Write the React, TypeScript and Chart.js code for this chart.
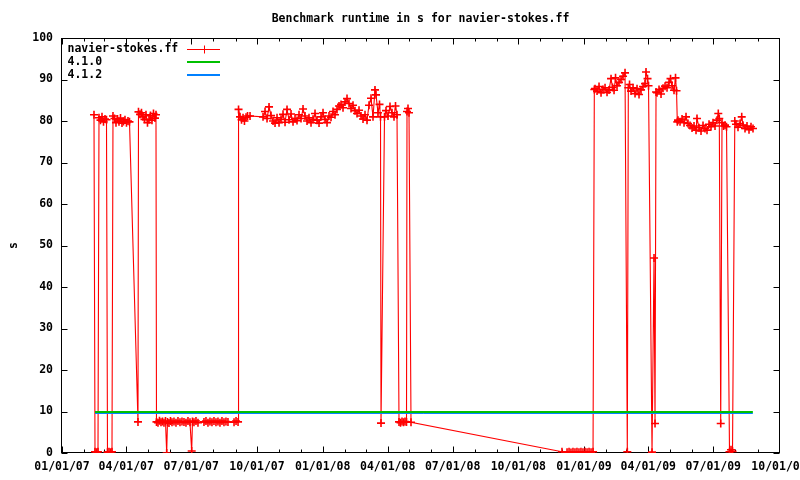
import React, { useEffect, useRef } from "react";
import { Chart, registerables } from "chart.js";

Chart.register(...registerables);

const FONT_FAMILY = '"DejaVu Sans Mono", "Liberation Mono", monospace';
const FONT_SIZE = 11.5;

const TITLE = "Benchmark runtime in s for navier-stokes.ff";
const Y_AXIS_LABEL = "s";
const X_TICK_LABELS = [
  "01/01/07", "04/01/07", "07/01/07", "10/01/07",
  "01/01/08", "04/01/08", "07/01/08", "10/01/08",
  "01/01/09", "04/01/09", "07/01/09", "10/01/09",
];
const Y_MIN = 0;
const Y_MAX = 100;
const Y_STEP = 10;

const SERIES_LABELS = ["navier-stokes.ff", "4.1.0", "4.1.2"];
const SERIES_COLORS = ["#ff0000", "#00c000", "#0080ff"];

// days since 01/01/07
const runDays = [
  44.8, 46.2, 48.3, 50.4, 51.8, 53.9, 56.0, 58.1, 60.2, 62.3,
  63.7, 65.8, 67.9, 70.0, 71.4, 73.5, 75.6, 77.7, 79.8, 81.9,
  84.0, 86.1, 88.2, 90.3, 92.4, 94.5, 106.4, 107.1, 109.2, 111.3,
  113.4, 115.5, 117.6, 119.7, 121.8, 123.9, 126.0, 128.1, 130.2, 131.6,
  132.3,
  134.4, 136.5, 138.6, 140.7, 142.8, 144.9, 146.6, 147.7, 149.8, 151.9,
  154.0, 156.8, 159.6, 162.4, 165.2, 168.0, 170.8, 173.6, 176.4, 179.2,
  181.6, 182.7, 184.8, 187.6, 190.4, 198.8, 201.6, 204.4, 207.2, 210.0,
  212.8, 215.6, 218.4, 221.2, 224.0, 226.8, 229.6, 232.4, 240.9, 243.7,
  246.5,
  247.2, 249.3, 251.4, 253.5, 255.5, 257.7, 259.8, 263.3, 281.5, 284.3,
  287.1, 289.9, 292.7, 295.5, 298.3, 301.1, 303.9, 306.7, 309.5, 312.3,
  315.1, 317.9, 320.7, 323.5, 326.3, 329.1, 331.9, 334.7, 337.5, 340.3,
  343.1, 345.9, 348.7, 351.5, 354.3, 357.1, 359.9, 362.7, 365.5, 368.3,
  371.1, 373.9, 376.7, 379.5, 382.3, 385.1, 387.9, 390.7, 393.5, 396.3,
  399.1, 401.9, 404.7, 407.5, 410.3, 413.1, 415.9, 418.7, 421.5, 424.3,
  427.1, 429.9, 432.7, 435.5, 438.3, 439.7, 442.5, 444.6, 446.0, 446.7,
  451.6,
  453.7, 456.5, 459.3, 462.1, 464.9, 467.0, 469.1, 471.9, 474.0, 476.1,
  478.2, 480.3, 482.4, 483.1, 484.5, 485.9, 488.7, 700.1,
  707.2, 710.0, 712.7, 715.5, 718.3, 721.1, 723.9, 726.7, 729.5, 732.4,
  735.2, 738.0, 740.8, 743.6, 745.4,
  746.4, 749.2, 752.0, 754.8, 757.6, 760.4, 763.2, 766.0, 768.8, 770.9,
  773.0, 775.1, 777.2, 780.0, 782.8, 785.6, 788.4, 791.6, 793.0,
  794.7, 796.8, 799.6, 802.4, 805.2, 808.0, 810.8, 813.6, 816.4, 817.8,
  819.9, 821.3, 826.2, 829.0, 830.4, 831.8,
  833.2, 836.0, 838.8, 841.6, 844.4, 847.2, 850.0, 852.1, 854.2, 857.0,
  859.1, 860.5, 861.6,
  862.6, 865.4, 868.2, 871.0, 873.8, 876.6, 879.4, 882.2, 885.0, 887.8,
  889.2, 892.0, 894.8, 897.6, 900.4, 903.2, 906.0, 908.8, 911.6, 914.4,
  917.2, 919.0, 920.4, 922.4, 924.2, 926.3, 928.4, 930.5, 934.7, 936.8,
  938.9, 942.1, 943.8, 946.6, 949.4, 951.8, 953.6, 956.4, 959.2, 962.0,
  964.8, 967.6,
];

const runSeconds = [
  81.5, 0.3, 0.2, 0.3, 80.8, 80.2, 81.0, 79.8, 80.5, 80.3,
  0.2, 0.3, 0.2, 0.3, 81.2, 80.6, 79.6, 80.5, 79.8, 80.7,
  79.5, 79.9, 80.3, 79.6, 80.0, 79.8, 7.5, 82.2, 81.6, 82.0,
  81.0, 80.4, 81.5, 79.6, 80.3, 81.3, 80.2, 81.8, 80.7, 81.5,
  7.5,
  7.3, 7.8, 7.4, 7.6, 7.3, 7.7, 0.0, 7.5, 7.2, 7.7,
  7.4, 7.6, 7.3, 7.7, 7.4, 7.6, 7.5, 7.3, 7.7, 7.4,
  0.5, 7.6, 7.4, 7.7, 7.3, 7.5, 7.7, 7.3, 7.6, 7.4,
  7.7, 7.4, 7.6, 7.3, 7.7, 7.4, 7.6, 7.5, 7.4, 7.7,
  7.5,
  82.8, 81.0, 80.3, 80.8, 80.0, 80.9, 81.2, 81.2, 81.0, 82.3,
  80.6, 83.4, 81.3, 80.0, 79.5, 80.8, 79.6, 80.4, 81.6, 79.7,
  82.8, 80.3, 81.7, 79.8, 80.6, 80.1, 81.5, 80.6, 82.9, 81.2,
  80.0, 80.8, 79.6, 80.4, 81.8, 80.2, 79.5, 81.0, 82.0, 80.4,
  79.6, 81.2, 80.9, 82.3, 81.5, 82.8, 83.6, 84.0, 83.2, 84.6,
  85.4, 84.2, 83.0, 83.8, 82.5, 81.8, 82.6, 81.2, 80.5, 81.5,
  80.2, 83.8, 85.5, 81.0, 87.5, 86.3, 82.0, 84.0, 81.0, 7.2,
  81.0,
  82.5, 81.2, 83.5, 82.0, 81.0, 83.6, 81.5, 7.5, 7.3, 7.6,
  7.4, 7.6, 7.5, 82.3, 83.0, 82.0, 7.4, 0.3,
  0.2, 0.3, 0.1, 0.3, 0.2, 0.3, 0.2, 0.3, 0.2, 0.3,
  0.2, 0.3, 0.2, 0.3, 87.6,
  87.8, 87.2, 88.3, 86.8, 87.6, 88.0, 86.9, 87.5, 90.2, 88.1,
  87.4, 90.4, 88.5, 89.3, 90.0, 90.8, 91.6, 0.3, 88.0,
  88.8, 87.2, 88.0, 86.6, 87.8, 86.4, 87.5, 88.3, 89.0, 91.8,
  90.2, 88.5, 0.2, 47.0, 7.1, 87.0,
  86.8, 87.6, 86.5, 87.9, 88.4, 88.0, 89.3, 90.2, 88.5, 87.4,
  90.4, 87.3, 79.8,
  80.2, 79.8, 80.5, 79.6, 81.0, 79.4, 78.9, 78.3, 78.8, 77.8,
  80.6, 78.4, 77.6, 78.9, 78.2, 77.8, 79.2, 78.6, 79.6, 78.8,
  80.2, 81.8, 80.6, 7.1, 79.6, 78.8, 79.0, 78.6, 0.3, 0.8,
  0.4, 80.0, 79.2, 78.5, 79.4, 81.0, 79.0, 78.2, 78.8, 77.9,
  78.6, 78.2,
];

const ref410Days = [46.2, 967.4];
const ref410Seconds = [9.88, 9.88];
const ref412Days = [46.2, 967.4];
const ref412Seconds = [9.52, 9.52];

function dayOf(label: string): number {
  const [m, d, y] = label.split("/").map(Number);
  return (Date.UTC(2000 + y, m - 1, d) - Date.UTC(2007, 0, 1)) / 86400000;
}

const X_MIN = dayOf(X_TICK_LABELS[0]);
const X_MAX = dayOf(X_TICK_LABELS[X_TICK_LABELS.length - 1]);

function monthStarts(): number[] {
  const out: number[] = [];
  for (let m = 0; m <= 40; m++) {
    const d = (Date.UTC(2007, m, 1) - Date.UTC(2007, 0, 1)) / 86400000;
    if (d >= X_MIN && d <= X_MAX) out.push(d);
  }
  return out;
}

const font = { family: FONT_FAMILY, size: FONT_SIZE, weight: "bold" as const };

const framePlugin = {
  id: "gnuplotFrame",
  beforeDatasetsDraw(chart: any) {
    const { ctx, chartArea: a } = chart;
    const xs = chart.scales.x;
    const ys = chart.scales.y;
    const L = Math.round(a.left) - 0.5;
    const R = Math.round(a.right) + 0.5;
    const T = Math.round(a.top) + 0.5;
    const B = Math.round(a.bottom) - 0.5;
    ctx.save();
    ctx.strokeStyle = "#000";
    ctx.lineWidth = 1;
    ctx.strokeRect(L, T, R - L, B - T);
    ctx.beginPath();
    const majors = X_TICK_LABELS.map(dayOf);
    for (const d of monthStarts()) {
      const isMajor = majors.some((m) => Math.abs(m - d) < 0.01);
      const len = isMajor ? 6 : 3;
      const px = Math.round(xs.getPixelForValue(d)) + 0.5;
      ctx.moveTo(px, B);
      ctx.lineTo(px, B - len);
      ctx.moveTo(px, T);
      ctx.lineTo(px, T + len);
    }
    for (let v = Y_MIN; v <= Y_MAX; v += Y_STEP) {
      const py = Math.round(ys.getPixelForValue(v)) + 0.5;
      ctx.moveTo(L, py);
      ctx.lineTo(L + 6, py);
      ctx.moveTo(R, py);
      ctx.lineTo(R - 6, py);
    }
    ctx.stroke();
    ctx.restore();
  },
};

const legendPlugin = {
  id: "gnuplotLegend",
  afterDatasetsDraw(chart: any) {
    const { ctx, chartArea: a } = chart;
    ctx.save();
    ctx.font = `bold ${FONT_SIZE}px ${FONT_FAMILY}`;
    ctx.textBaseline = "middle";
    ctx.textAlign = "left";
    chart.data.datasets.forEach((ds: any, i: number) => {
      const y = a.top + 11 + i * 13;
      ctx.fillStyle = "#000";
      ctx.fillText(ds.label, a.left + 5.5, y);
      const x1 = a.left + 125;
      const x2 = a.left + 158;
      ctx.strokeStyle = ds.borderColor;
      ctx.lineWidth = i === 0 ? 1 : 2;
      ctx.beginPath();
      const ly = i === 0 ? Math.round(y) + 0.5 : Math.round(y);
      ctx.moveTo(x1, ly);
      ctx.lineTo(x2, ly);
      if (i === 0) {
        const cx = Math.round((x1 + x2) / 2) + 0.5;
        ctx.moveTo(cx, ly - 4);
        ctx.lineTo(cx, ly + 4);
        ctx.moveTo(cx - 4, ly);
        ctx.lineTo(cx + 4, ly);
      }
      ctx.stroke();
    });
    ctx.restore();
  },
};

export default function App() {
  const canvasRef = useRef<HTMLCanvasElement | null>(null);

  useEffect(() => {
    const canvas = canvasRef.current;
    if (!canvas) return;
    const chart = new Chart(canvas, {
      type: "line",
      data: {
        datasets: [
          {
            label: SERIES_LABELS[0],
            data: runDays.map((d, i) => ({ x: d, y: runSeconds[i] })),
            borderColor: SERIES_COLORS[0],
            backgroundColor: SERIES_COLORS[0],
            borderWidth: 1.1,
            pointStyle: "cross",
            pointRadius: 4,
            pointBorderWidth: 1.6,
            pointBorderColor: SERIES_COLORS[0],
            tension: 0,
            fill: false,
            order: 3,
          },
          {
            label: SERIES_LABELS[1],
            data: ref410Days.map((d, i) => ({ x: d, y: ref410Seconds[i] })),
            borderColor: SERIES_COLORS[1],
            backgroundColor: SERIES_COLORS[1],
            borderWidth: 2,
            pointRadius: 0,
            fill: false,
            order: 1,
          },
          {
            label: SERIES_LABELS[2],
            data: ref412Days.map((d, i) => ({ x: d, y: ref412Seconds[i] })),
            borderColor: SERIES_COLORS[2],
            backgroundColor: SERIES_COLORS[2],
            borderWidth: 1,
            pointRadius: 0,
            fill: false,
            order: 2,
          },
        ],
      },
      options: {
        animation: false,
        responsive: false,
        devicePixelRatio: 1,
        events: [],
        layout: {
          padding: { left: 0, right: 21, top: 0, bottom: 0 },
          autoPadding: false,
        },
        plugins: {
          legend: { display: false },
          tooltip: { enabled: false },
          title: {
            display: true,
            text: TITLE,
            fullSize: false,
            color: "#000",
            font,
            padding: { top: 12, bottom: 12.2 },
          },
        },
        scales: {
          x: {
            type: "linear",
            min: X_MIN,
            max: X_MAX,
            grid: { display: false, drawTicks: false },
            border: { display: false },
            ticks: {
              autoSkip: false,
              maxRotation: 0,
              minRotation: 0,
              padding: 7,
              color: "#000",
              font,
              callback: (_v: any, i: number) => X_TICK_LABELS[i] ?? "",
            },
            afterBuildTicks: (s: any) => {
              s.ticks = X_TICK_LABELS.map((l) => ({ value: dayOf(l) }));
            },
            afterFit: (s: any) => {
              s.height = 27;
              s.paddingLeft = 0;
              s.paddingRight = 0;
            },
          },
          y: {
            type: "linear",
            min: Y_MIN,
            max: Y_MAX,
            grid: { display: false, drawTicks: false },
            border: { display: false },
            ticks: {
              stepSize: Y_STEP,
              padding: 9,
              color: "#000",
              font,
              callback: (v: any) => String(v),
            },
            title: {
              display: true,
              text: Y_AXIS_LABEL,
              color: "#000",
              font,
              padding: { top: 6.8, bottom: 0 },
            },
            afterFit: (s: any) => {
              s.width = 62;
              s.paddingTop = 0;
              s.paddingBottom = 0;
            },
          },
        },
      },
      plugins: [framePlugin, legendPlugin],
    } as any);
    return () => chart.destroy();
  }, []);

  return (
    <div style={{ position: "fixed", left: 0, top: 0, width: 800, height: 480, background: "#fff" }}>
      <canvas ref={canvasRef} width={800} height={480} />
    </div>
  );
}
